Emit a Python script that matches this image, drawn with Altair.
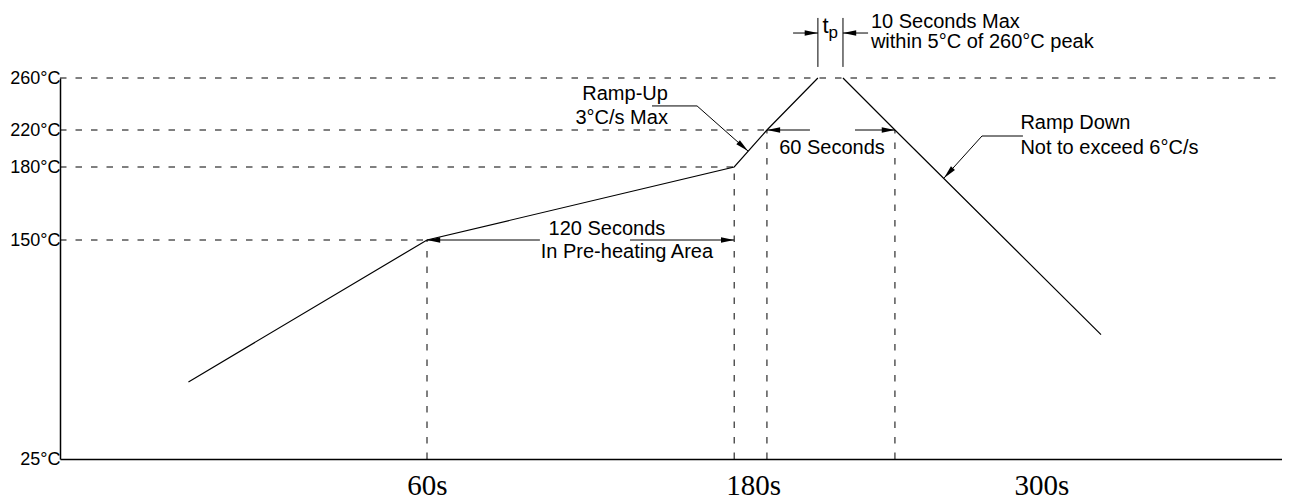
import altair as alt
import pandas as pd

# ---------------- data (time in s, temperature in °C) ----------------
# solder reflow profile: ramp-up part and ramp-down part (gap at the peak)
rampup_time = [21, 60, 180, 192.8, 212.7]
rampup_temp = [69, 150, 180, 220, 260]
rampdown_time = [222.5, 242.8, 323.3]
rampdown_temp = [260, 220, 96]

# axes
time_extent = [0, 60, 394]
temp_ticks = [25, 150, 180, 220, 260]
time_ticks = [60, 180, 300]

# dashed reference lines
hguide_temp = [260, 220, 180, 150]
hguide_start = [0, 0, 0, 0]
hguide_end = [394, 192.8, 180, 60]
vguide_time = [60, 180, 192.8, 242.8]
vguide_top = [150, 180, 220, 220]

# horizontal dimension arrows: tail time, tip time, temperature level
dim_tail = [104.1, 139.3, 209.6, 227.2, 203.0, 232.3]
dim_tip = [60, 180, 192.8, 242.8, 212.7, 222.5]
dim_temp = [150, 150, 220, 220, 294.6, 294.6]

# t_p extension lines
tp_time = [212.7, 222.5]
tp_low = [268.5, 268.5]
tp_high = [306.2, 306.2]

# leader lines ending with an arrow
leader_up_time = [147.9, 165.5, 185.4]
leader_up_temp = [238.5, 238.5, 197.3]
leader_down_time = [292.8, 276.8, 262.0]
leader_down_temp = [213.5, 213.5, 175.5]
leader_angle = [221.4, 312.1]

# annotations
note_text = ["10 Seconds Max", "within 5°C of 260°C peak", "t", "p",
             "Ramp-Up", "3°C/s Max", "60 Seconds", "120 Seconds",
             "In Pre-heating Area", "Ramp Down", "Not to exceed 6°C/s"]
note_time = [233.4, 233.4, 214.5, 216.8, 154.1, 154.1, 218.2, 130.3, 138.1, 291.8, 291.8]
note_temp = [298.5, 283.1, 294.6, 290.8, 243.1, 224.4, 194.1, 152.1, 139.7, 220.8, 194.1]
note_align = ["left", "left", "left", "left", "right", "right", "center", "center",
              "center", "left", "left"]
note_size = [20, 20, 22, 17, 20, 20, 20, 20, 20, 20, 20]

# ---------------- tables ----------------
curve = pd.DataFrame({
    "t": rampup_time + rampdown_time,
    "T": rampup_temp + rampdown_temp,
    "seg": ["up"] * len(rampup_time) + ["down"] * len(rampdown_time),
    "order": list(range(len(rampup_time) + len(rampdown_time))),
})

guides = pd.DataFrame({
    "t": hguide_start + vguide_time,
    "t2": hguide_end + vguide_time,
    "T": hguide_temp + [temp_ticks[0]] * len(vguide_time),
    "T2": hguide_temp + vguide_top,
})

solid = pd.DataFrame({
    "t": dim_tail + tp_time,
    "t2": dim_tip + tp_time,
    "T": dim_temp + tp_low,
    "T2": dim_temp + tp_high,
})

leaders = pd.DataFrame({
    "t": leader_up_time + leader_down_time,
    "T": leader_up_temp + leader_down_temp,
    "grp": ["up"] * 3 + ["down"] * 3,
    "order": list(range(6)),
})

heads = pd.DataFrame({
    "t": dim_tip + [leader_up_time[-1], leader_down_time[-1]],
    "T": dim_temp + [leader_up_temp[-1], leader_down_temp[-1]],
    "angle": [0 if tip < tail else 180 for tail, tip in zip(dim_tail, dim_tip)] + leader_angle,
})

notes = pd.DataFrame({
    "t": note_time, "T": note_temp, "text": note_text,
    "align": note_align, "size": note_size,
})

# ---------------- scales / axes ----------------
x_scale = alt.Scale(domain=time_extent, range=[0, 367, 1222], nice=False, zero=False)
y_scale = alt.Scale(domain=temp_ticks, range=[381, 162, 89, 52, 0], nice=False, zero=False)

x_axis = alt.Axis(values=time_ticks, labelExpr="datum.value + 's'", ticks=False, tickSize=0,
                  grid=False, labelFont="Liberation Serif", labelFontSize=29,
                  labelColor="black", labelPadding=35, labelBaseline="alphabetic",
                  labelFlush=False, labelOverlap=False, domainColor="black", domainWidth=1.5,
                  labelOffset={"condition": {"test": "datum.value == 180", "value": 19},
                               "value": 0})
y_axis = alt.Axis(values=temp_ticks, labelExpr="datum.value + '°C'", ticks=False, tickSize=0,
                  grid=False, labelFont="Liberation Sans", labelFontSize=18,
                  labelColor="black", labelPadding=0, labelFlush=False, labelOverlap=False,
                  domainColor="black", domainWidth=1.5)

X = alt.X("t:Q", scale=x_scale, axis=x_axis, title="")
Y = alt.Y("T:Q", scale=y_scale, axis=y_axis, title="")

ARROW = "M0,0L4.4,-0.9L4.4,0.9Z"

guides_layer = alt.Chart(guides).mark_rule(color="black", strokeWidth=1, strokeDash=[6.5, 9]).encode(
    x=X, x2="t2:Q", y=Y, y2="T2:Q")

curve_layer = alt.Chart(curve).mark_line(color="black", strokeWidth=1.2).encode(
    x=X, y=Y, detail="seg:N", order="order:Q")

solid_layer = alt.Chart(solid).mark_rule(color="black", strokeWidth=1).encode(
    x=X, x2="t2:Q", y=Y, y2="T2:Q")

leader_layer = alt.Chart(leaders).mark_line(color="black", strokeWidth=1).encode(
    x=X, y=Y, detail="grp:N", order="order:Q")

head_layer = alt.Chart(heads).mark_point(shape=ARROW, filled=True, size=36, color="black",
                                         opacity=1, strokeWidth=0).encode(
    x=X, y=Y, angle=alt.Angle("angle:Q", scale=None))

text_layers = []
for a in ["left", "right", "center"]:
    text_layers.append(
        alt.Chart(notes).transform_filter(alt.datum.align == a).mark_text(
            font="Liberation Sans", align=a, baseline="alphabetic", color="black").encode(
            x=X, y=Y, text="text:N", size=alt.Size("size:Q", scale=None))
    )

chart = alt.layer(guides_layer, curve_layer, solid_layer, leader_layer, head_layer,
                  *text_layers).properties(
    width=1222, height=381,
    padding={"left": 52, "top": 70, "right": 0, "bottom": 41},
    autosize=alt.AutoSizeParams(type="none"),
    background="white",
).configure_view(strokeWidth=0)

chart.save("out.html", embed_options={"renderer": "svg", "actions": False})
